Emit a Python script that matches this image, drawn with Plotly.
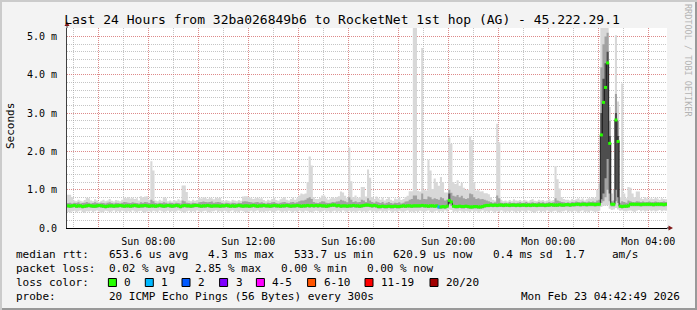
import plotly.graph_objects as go
import pandas as pd

# ---------------- data (ms) : 288 steps of 5 min ----------------
rtt_max = [
    0.87,0.87,0.80,0.72,0.70,0.74,0.71,0.69,0.73,0.79,0.78,0.72,0.70,0.75,0.72,0.68,0.71,0.74,0.70,0.72,0.76,0.71,0.69,0.73,
    0.72,0.70,0.74,0.79,0.78,0.80,0.77,0.79,0.76,0.78,0.72,0.83,0.80,0.82,0.83,0.74,1.74,1.50,0.72,0.70,0.74,0.71,0.80,0.78,
    0.70,0.72,0.69,0.73,0.71,0.75,0.72,1.11,1.11,0.94,0.72,0.70,0.74,0.71,0.73,0.79,0.77,0.80,0.79,0.76,0.79,0.78,0.75,0.79,
    0.78,0.79,0.72,0.70,0.73,0.71,0.69,0.74,0.72,0.70,0.73,0.71,0.82,0.83,0.83,0.80,0.78,0.76,0.78,0.79,0.77,0.78,0.73,0.70,
    0.74,0.72,0.76,0.79,0.73,0.71,0.75,0.78,0.80,0.74,0.72,0.76,0.79,0.74,0.78,0.85,0.90,0.88,0.90,1.20,1.87,1.63,0.80,0.76,
    0.76,0.79,0.85,0.85,0.78,0.74,0.77,0.80,0.78,0.80,0.83,0.95,0.93,0.84,0.78,2.10,1.22,0.80,0.85,0.78,0.80,1.07,1.07,0.82,
    1.53,1.31,0.80,0.76,0.82,0.78,0.74,0.79,0.72,0.76,0.80,0.74,0.71,0.77,0.75,0.79,0.73,0.76,0.81,0.84,0.96,0.96,5.40,5.40,
    0.97,0.95,4.70,1.00,0.98,1.78,1.50,1.02,1.29,1.20,1.10,1.33,1.20,0.93,0.93,2.36,2.20,1.20,1.15,1.25,1.10,1.18,1.05,1.00,
    1.00,2.39,2.30,1.20,0.98,1.00,0.95,0.96,0.91,0.91,0.88,0.80,0.74,0.72,2.72,2.24,0.74,0.70,0.72,0.69,0.73,0.70,0.75,0.72,
    0.71,0.73,0.70,0.74,0.72,0.69,0.73,0.76,0.71,0.70,0.74,0.72,0.73,0.70,0.72,0.75,0.71,0.73,1.62,1.27,1.03,0.80,0.76,0.74,
    0.74,0.72,0.76,0.73,0.75,0.78,0.74,0.77,0.72,0.75,0.78,0.77,0.80,0.78,1.00,1.16,5.40,5.40,5.40,5.40,3.16,0.90,1.00,5.03,
    3.30,0.80,3.77,0.90,0.78,1.07,1.05,0.90,0.80,0.95,0.95,0.78,0.76,0.80,0.77,0.75,0.78,0.76,0.79,0.77,0.74,0.78,0.76,0.75,
]
rtt_p80 = [
    0.65,0.66,0.64,0.66,0.65,0.67,0.64,0.65,0.66,0.68,0.66,0.64,0.65,0.67,0.65,0.64,0.66,0.65,0.64,0.66,0.67,0.65,0.64,0.66,
    0.65,0.64,0.66,0.68,0.67,0.66,0.65,0.67,0.66,0.65,0.64,0.67,0.66,0.68,0.67,0.65,0.74,0.70,0.65,0.64,0.66,0.65,0.67,0.66,
    0.64,0.66,0.65,0.64,0.66,0.65,0.64,0.72,0.70,0.66,0.65,0.64,0.66,0.65,0.64,0.67,0.68,0.69,0.68,0.67,0.68,0.69,0.66,0.67,
    0.68,0.67,0.65,0.64,0.66,0.65,0.64,0.66,0.65,0.64,0.66,0.65,0.69,0.70,0.69,0.68,0.67,0.66,0.67,0.68,0.66,0.67,0.65,0.64,
    0.66,0.65,0.67,0.68,0.65,0.64,0.66,0.67,0.68,0.66,0.65,0.67,0.68,0.66,0.67,0.70,0.72,0.72,0.74,0.78,0.80,0.76,0.68,0.66,
    0.65,0.67,0.70,0.69,0.66,0.65,0.66,0.68,0.67,0.69,0.70,0.74,0.72,0.70,0.67,0.80,0.74,0.68,0.70,0.67,0.68,0.74,0.72,0.68,
    0.78,0.72,0.68,0.66,0.69,0.67,0.65,0.68,0.64,0.66,0.68,0.65,0.64,0.66,0.65,0.67,0.64,0.66,0.69,0.70,0.74,0.76,0.85,0.85,
    0.75,0.74,0.90,0.76,0.75,0.82,0.80,0.75,0.78,0.76,0.74,0.80,0.78,0.72,0.74,1.00,0.92,0.84,0.82,0.86,0.80,0.84,0.78,0.76,
    0.78,0.90,0.88,0.80,0.76,0.78,0.75,0.76,0.74,0.72,0.70,0.68,0.66,0.67,0.85,0.78,0.66,0.65,0.66,0.64,0.67,0.65,0.66,0.65,
    0.66,0.67,0.65,0.66,0.68,0.65,0.66,0.67,0.65,0.66,0.68,0.66,0.67,0.65,0.66,0.68,0.66,0.67,0.78,0.72,0.70,0.68,0.67,0.66,
    0.67,0.66,0.68,0.67,0.69,0.68,0.67,0.69,0.68,0.67,0.69,0.68,0.69,0.68,0.72,0.74,4.20,4.80,5.00,5.10,2.80,0.70,0.72,3.50,
    2.80,0.66,0.70,0.68,0.66,0.72,0.70,0.68,0.67,0.70,0.69,0.68,0.69,0.67,0.68,0.69,0.67,0.68,0.69,0.68,0.67,0.68,0.69,0.68,
]
rtt_p20 = [
    0.53,0.52,0.53,0.54,0.52,0.53,0.53,0.51,0.52,0.53,0.54,0.53,0.52,0.52,0.53,0.54,0.53,0.52,0.51,0.52,0.53,0.53,0.52,0.53,
    0.53,0.54,0.53,0.52,0.53,0.53,0.52,0.53,0.54,0.53,0.52,0.53,0.53,0.54,0.53,0.52,0.53,0.53,0.52,0.53,0.54,0.53,0.52,0.53,
    0.54,0.53,0.52,0.53,0.54,0.53,0.51,0.53,0.54,0.53,0.53,0.52,0.53,0.54,0.54,0.53,0.52,0.53,0.53,0.54,0.53,0.52,0.53,0.53,
    0.53,0.52,0.53,0.53,0.54,0.53,0.52,0.53,0.52,0.53,0.54,0.53,0.52,0.53,0.53,0.52,0.53,0.54,0.53,0.52,0.53,0.53,0.54,0.53,
    0.53,0.52,0.53,0.54,0.53,0.53,0.52,0.53,0.53,0.54,0.53,0.52,0.53,0.53,0.54,0.53,0.52,0.53,0.53,0.54,0.53,0.54,0.53,0.54,
    0.53,0.54,0.53,0.53,0.52,0.53,0.54,0.55,0.55,0.53,0.54,0.52,0.53,0.53,0.52,0.53,0.53,0.54,0.53,0.53,0.52,0.53,0.54,0.55,
    0.55,0.54,0.53,0.54,0.53,0.51,0.51,0.52,0.51,0.51,0.52,0.51,0.51,0.52,0.51,0.51,0.52,0.53,0.52,0.53,0.53,0.52,0.53,0.53,
    0.53,0.53,0.54,0.53,0.53,0.52,0.53,0.53,0.52,0.53,0.50,0.50,0.51,0.50,0.52,0.62,0.58,0.52,0.51,0.51,0.52,0.51,0.51,0.52,
    0.51,0.50,0.50,0.51,0.51,0.50,0.50,0.51,0.53,0.54,0.54,0.55,0.54,0.55,0.54,0.55,0.55,0.54,0.55,0.55,0.54,0.55,0.55,0.54,
    0.55,0.54,0.55,0.55,0.54,0.55,0.54,0.55,0.55,0.54,0.55,0.55,0.55,0.54,0.55,0.55,0.56,0.55,0.55,0.55,0.56,0.55,0.55,0.56,
    0.56,0.55,0.56,0.56,0.57,0.57,0.56,0.57,0.57,0.56,0.57,0.57,0.57,0.56,0.57,0.57,0.65,0.70,0.80,1.00,0.70,0.56,0.56,0.70,
    0.65,0.52,0.51,0.52,0.52,0.53,0.57,0.57,0.57,0.57,0.57,0.56,0.57,0.57,0.57,0.57,0.57,0.56,0.57,0.57,0.57,0.57,0.56,0.57,
]
rtt_min = [
    0.42,0.40,0.43,0.45,0.41,0.44,0.46,0.42,0.40,0.44,0.43,0.45,0.41,0.44,0.46,0.43,0.40,0.42,0.45,0.44,0.41,0.43,0.46,0.42,
    0.44,0.41,0.45,0.43,0.40,0.44,0.42,0.46,0.43,0.41,0.44,0.45,0.42,0.40,0.43,0.44,0.41,0.45,0.43,0.42,0.46,0.44,0.41,0.43,
    0.45,0.42,0.44,0.41,0.43,0.46,0.44,0.42,0.40,0.43,0.45,0.41,0.44,0.42,0.46,0.43,0.41,0.44,0.45,0.42,0.40,0.43,0.44,0.46,
    0.42,0.44,0.41,0.45,0.43,0.40,0.44,0.46,0.42,0.43,0.41,0.45,0.44,0.42,0.40,0.43,0.45,0.41,0.44,0.46,0.42,0.43,0.41,0.44,
    0.43,0.45,0.42,0.40,0.44,0.46,0.43,0.41,0.44,0.42,0.45,0.43,0.40,0.44,0.42,0.46,0.43,0.41,0.45,0.44,0.42,0.40,0.43,0.45,
    0.44,0.41,0.43,0.46,0.42,0.44,0.40,0.43,0.45,0.41,0.44,0.42,0.46,0.43,0.41,0.45,0.42,0.44,0.40,0.43,0.45,0.42,0.44,0.41,
    0.43,0.46,0.42,0.44,0.40,0.43,0.45,0.41,0.44,0.42,0.46,0.43,0.40,0.44,0.42,0.45,0.43,0.41,0.44,0.46,0.42,0.43,0.40,0.44,
    0.42,0.45,0.43,0.41,0.44,0.46,0.42,0.40,0.43,0.45,0.41,0.44,0.42,0.46,0.43,0.48,0.47,0.42,0.44,0.41,0.45,0.43,0.40,0.44,
    0.43,0.41,0.45,0.42,0.44,0.40,0.43,0.46,0.42,0.44,0.41,0.45,0.43,0.40,0.44,0.42,0.46,0.43,0.41,0.44,0.42,0.45,0.43,0.40,
    0.44,0.42,0.45,0.43,0.41,0.46,0.44,0.42,0.40,0.43,0.45,0.41,0.44,0.42,0.46,0.43,0.41,0.44,0.45,0.42,0.40,0.43,0.44,0.46,
    0.42,0.44,0.41,0.45,0.43,0.40,0.44,0.46,0.42,0.43,0.41,0.45,0.44,0.42,0.43,0.45,0.55,0.58,0.58,0.60,0.50,0.47,0.48,0.52,
    0.48,0.45,0.46,0.44,0.43,0.45,0.46,0.44,0.42,0.45,0.47,0.44,0.46,0.43,0.45,0.47,0.44,0.46,0.43,0.45,0.47,0.44,0.46,0.45,
]
rtt_median = [
    0.58,0.57,0.58,0.59,0.57,0.58,0.58,0.56,0.57,0.58,0.59,0.58,0.57,0.57,0.58,0.59,0.58,0.57,0.56,0.57,0.58,0.58,0.57,0.58,
    0.58,0.59,0.58,0.57,0.58,0.58,0.57,0.58,0.59,0.58,0.57,0.58,0.58,0.59,0.58,0.57,0.58,0.58,0.57,0.58,0.59,0.58,0.57,0.58,
    0.59,0.58,0.57,0.58,0.59,0.58,0.56,0.58,0.59,0.58,0.58,0.57,0.58,0.59,0.59,0.58,0.57,0.58,0.58,0.59,0.58,0.57,0.58,0.58,
    0.58,0.57,0.58,0.58,0.59,0.58,0.57,0.58,0.57,0.58,0.59,0.58,0.57,0.58,0.58,0.57,0.58,0.59,0.58,0.57,0.58,0.58,0.59,0.58,
    0.58,0.57,0.58,0.59,0.58,0.58,0.57,0.58,0.58,0.59,0.58,0.57,0.58,0.58,0.59,0.58,0.57,0.58,0.58,0.59,0.58,0.59,0.58,0.59,
    0.58,0.59,0.58,0.58,0.57,0.58,0.59,0.60,0.60,0.58,0.59,0.57,0.58,0.58,0.57,0.58,0.58,0.59,0.58,0.58,0.57,0.58,0.59,0.60,
    0.60,0.59,0.58,0.59,0.58,0.56,0.56,0.57,0.56,0.56,0.57,0.56,0.56,0.57,0.56,0.56,0.57,0.58,0.57,0.58,0.58,0.57,0.58,0.58,
    0.58,0.58,0.59,0.58,0.58,0.57,0.58,0.58,0.57,0.58,0.55,0.55,0.56,0.55,0.57,0.72,0.68,0.57,0.56,0.56,0.57,0.56,0.56,0.57,
    0.56,0.55,0.55,0.56,0.56,0.55,0.55,0.56,0.58,0.59,0.59,0.60,0.59,0.60,0.59,0.60,0.60,0.59,0.60,0.60,0.59,0.60,0.60,0.59,
    0.60,0.59,0.60,0.60,0.59,0.60,0.59,0.60,0.60,0.59,0.60,0.60,0.60,0.59,0.60,0.60,0.61,0.60,0.60,0.60,0.61,0.60,0.60,0.61,
    0.61,0.60,0.61,0.61,0.62,0.62,0.61,0.62,0.62,0.61,0.62,0.62,0.62,0.61,0.62,0.62,2.43,3.28,3.67,4.31,2.21,0.62,0.62,2.82,
    2.26,0.57,0.56,0.57,0.57,0.58,0.62,0.62,0.62,0.62,0.62,0.61,0.62,0.62,0.62,0.62,0.62,0.61,0.62,0.62,0.62,0.62,0.61,0.62,
]
# dense inner smoke during the latency burst (steps with very spread pings)
core_steps = [183, 256, 257, 258, 259, 260, 263, 264]
core_lo = [0.64, 0.75, 0.90, 1.30, 1.80, 0.90, 1.00, 0.80]
core_hi = [0.90, 3.00, 3.90, 4.30, 4.60, 2.40, 3.00, 2.40]

loss_steps = [178]          # steps with lost pings
loss_counts = [1]           # pings lost in those steps

loss_labels = ["0", "1", "2", "3", "4-5", "6-10", "11-19", "20/20"]
loss_colors = ["#26ff00", "#00b8ff", "#0059ff", "#7e00ff", "#ff00ff", "#ff5500", "#ff0000", "#a10000"]

x_major = ["2026-02-22 06:00", "2026-02-22 08:00", "2026-02-22 10:00", "2026-02-22 12:00",
           "2026-02-22 14:00", "2026-02-22 16:00", "2026-02-22 18:00", "2026-02-22 20:00",
           "2026-02-22 22:00", "2026-02-23 00:00", "2026-02-23 02:00", "2026-02-23 04:00"]
x_labels = ["", "Sun 08:00", "", "Sun 12:00", "", "Sun 16:00", "", "Sun 20:00",
            "", "Mon 00:00", "", "Mon 04:00"]
y_ticks = [0, 1, 2, 3, 4, 5]
y_labels = ["0.0", "1.0 m", "2.0 m", "3.0 m", "4.0 m", "5.0 m"]

stats_median = ["median rtt:", "653.6 us avg", "4.3 ms max", "533.7 us min", "620.9 us now", "0.4 ms sd", "1.7", "am/s"]
stats_loss = ["packet loss:", "0.02 % avg", "2.85 % max", "0.00 % min", "0.00 % now"]
stats_probe = ["probe:", "20 ICMP Echo Pings (56 Bytes) every 300s", "Mon Feb 23 04:42:49 2026"]

for name, arr in [("max", rtt_max), ("p80", rtt_p80), ("p20", rtt_p20), ("min", rtt_min), ("med", rtt_median)]:
    assert len(arr) == 288, (name, len(arr))

# ---------------- geometry ----------------
FW, FH = 697, 310
L, R, T, B = 67, 30, 28, 82
PW, PH = FW - L - R, FH - T - B
YMAX = PH / 38.3
CW = 6.62   # mono char advance at 11px

start = pd.Timestamp("2026-02-22 04:45:00")
step = pd.Timedelta(minutes=5)
n = len(rtt_median)
x_edges = [start + i * step for i in range(n + 1)]
x_mid = [start + (i + 0.5) * step for i in range(n)]


def ext(a):
    return list(a) + [a[-1]]


def xp(px):
    return (px - L) / PW


def yp(py):
    return 1 - (py - T) / PH


loss_by_step = dict(zip(loss_steps, loss_counts))
mcolors = [loss_colors[loss_by_step.get(i, 0)] for i in range(n)]

core_x, core_y = [], []
for s, lo, hi in zip(core_steps, core_lo, core_hi):
    x0, x1 = start + s * step, start + (s + 1) * step
    core_x += [x0, x1, x1, x0, x0, None]
    core_y += [lo, lo, hi, hi, lo, None]

fig = go.Figure()
common = dict(mode="lines", hoverinfo="skip", showlegend=False)
fig.add_trace(go.Scatter(x=x_edges, y=ext(rtt_min), line=dict(width=0, shape="hv"), **common))
fig.add_trace(go.Scatter(x=x_edges, y=ext(rtt_max), line=dict(width=0, shape="hv"),
                         fill="tonexty", fillcolor="#d8d8d8", **common))
fig.add_trace(go.Scatter(x=x_edges, y=ext(rtt_p20), line=dict(width=0, shape="hv"), **common))
fig.add_trace(go.Scatter(x=x_edges, y=ext(rtt_p80), line=dict(width=0, shape="hv"),
                         fill="tonexty", fillcolor="#a2a2a2", **common))
fig.add_trace(go.Scatter(x=core_x, y=core_y, fill="toself", fillcolor="#4e4e4e",
                         line=dict(width=0), **common))
fig.add_trace(go.Scatter(x=x_edges, y=ext(rtt_median), line=dict(width=1, shape="hv", color="#202020"), **common))
fig.add_trace(go.Scatter(x=x_mid, y=rtt_median, mode="markers", hoverinfo="skip", showlegend=False,
                         marker=dict(symbol="square", size=3, color=mcolors, line=dict(width=0))))

MONO = "DejaVu Sans Mono"
grid_red = "rgba(240,90,90,0.55)"
grid_grey = "rgba(150,150,150,0.55)"

fig.update_layout(
    width=FW, height=FH,
    margin=dict(l=L, r=R, t=T, b=B, pad=0),
    paper_bgcolor="#f3f3f3", plot_bgcolor="#ffffff",
    showlegend=False,
    font=dict(family=MONO, size=10, color="#000000"),
    title=dict(text="Last 24 Hours from 32ba026849b6 to RocketNet 1st hop (AG) - 45.222.29.1",
               x=342 / FW, xanchor="center", y=1 - 19 / FH, yanchor="middle",
               font=dict(family=MONO, size=13, color="#000000")),
    xaxis=dict(type="date", range=[start, start + pd.Timedelta(hours=24)],
               tickmode="array", tickvals=x_major, ticktext=x_labels,
               showgrid=True, gridcolor=grid_red, griddash="1px,1px", gridwidth=1,
               minor=dict(dtick=3600000, tick0="2026-02-22 05:00", showgrid=True,
                          gridcolor=grid_grey, griddash="1px,1px", gridwidth=1),
               showline=True, linecolor="#000000", linewidth=1, ticks="",
               zeroline=False, tickfont=dict(family=MONO, size=10), ticklabelstandoff=4,
               fixedrange=True),
    yaxis=dict(range=[0, YMAX], tickmode="array", tickvals=y_ticks, ticktext=y_labels,
               showgrid=True, gridcolor=grid_red, griddash="1px,1px", gridwidth=1,
               minor=dict(dtick=0.2, tick0=0, showgrid=True, gridcolor=grid_grey,
                          griddash="1px,1px", gridwidth=1),
               showline=True, linecolor="#404040", linewidth=1, ticks="",
               zeroline=False, tickfont=dict(family=MONO, size=10), ticklabelstandoff=7,
               fixedrange=True),
)

shapes = []
anns = []

# axis extensions and arrows
shapes.append(dict(type="line", xref="paper", yref="paper", x0=xp(67), x1=xp(67), y0=yp(T), y1=yp(25),
                   line=dict(color="#404040", width=1)))
shapes.append(dict(type="line", xref="paper", yref="paper", x0=xp(667), x1=xp(669), y0=0, y1=0,
                   line=dict(color="#000000", width=1)))
shapes.append(dict(type="path", xref="paper", yref="paper",
                   path=f"M {xp(64.5)},{yp(26)} L {xp(69.5)},{yp(26)} L {xp(67)},{yp(21.5)} Z",
                   fillcolor="#7f1818", line=dict(width=0)))
shapes.append(dict(type="path", xref="paper", yref="paper",
                   path=f"M {xp(668.5)},{yp(225.5)} L {xp(668.5)},{yp(230.5)} L {xp(673)},{yp(228)} Z",
                   fillcolor="#7f1818", line=dict(width=0)))

# frame
shapes.append(dict(type="rect", xref="paper", yref="paper", x0=xp(0), x1=xp(FW), y0=yp(0), y1=yp(2),
                   fillcolor="#cbcbcb", line=dict(width=0)))
shapes.append(dict(type="rect", xref="paper", yref="paper", x0=xp(0), x1=xp(2), y0=yp(0), y1=yp(FH),
                   fillcolor="#cbcbcb", line=dict(width=0)))
shapes.append(dict(type="rect", xref="paper", yref="paper", x0=xp(2), x1=xp(FW), y0=yp(FH - 2), y1=yp(FH),
                   fillcolor="#999999", line=dict(width=0)))
shapes.append(dict(type="rect", xref="paper", yref="paper", x0=xp(FW - 2), x1=xp(FW), y0=yp(2), y1=yp(FH),
                   fillcolor="#999999", line=dict(width=0)))


def text(t, x, y, size=11, anchor="left", color="#000000", angle=0):
    anns.append(dict(text=t, x=xp(x), y=yp(y), xref="paper", yref="paper", showarrow=False,
                     xanchor=anchor, yanchor="middle", borderpad=0, textangle=angle,
                     font=dict(family=MONO, size=size, color=color)))


text("Seconds", 10, 126, size=11, anchor="center", angle=-90)
text("RRDTOOL / TOBI OETIKER", 688, 60, size=8.5, anchor="center", color="#b4b4b4", angle=90)

X0 = 15
row_y = [254.5, 268.5, 282.5, 296.3]
for t, c in zip(stats_median, [0, 14, 29, 42, 57, 72, 83, 90]):
    text(t, X0 + c * CW, row_y[0])
for t, c in zip(stats_loss, [0, 14, 27, 40, 53]):
    text(t, X0 + c * CW, row_y[1])
text("loss color:", X0, row_y[2])
box_x = [108.4, 145.3, 182, 219.6, 256.4, 307.6, 365, 430]
for lab, col, bx in zip(loss_labels, loss_colors, box_x):
    shapes.append(dict(type="rect", xref="paper", yref="paper",
                       x0=xp(bx), x1=xp(bx + 8), y0=yp(row_y[2] - 4), y1=yp(row_y[2] + 4),
                       fillcolor=col, line=dict(color="#000000", width=1)))
    text(lab, bx + 15, row_y[2])
text(stats_probe[0], X0, row_y[3])
text(stats_probe[1], X0 + 14 * CW, row_y[3])
text(stats_probe[2], 681, row_y[3], anchor="right")

fig.update_layout(shapes=shapes, annotations=anns)
fig.write_html("out.html")
